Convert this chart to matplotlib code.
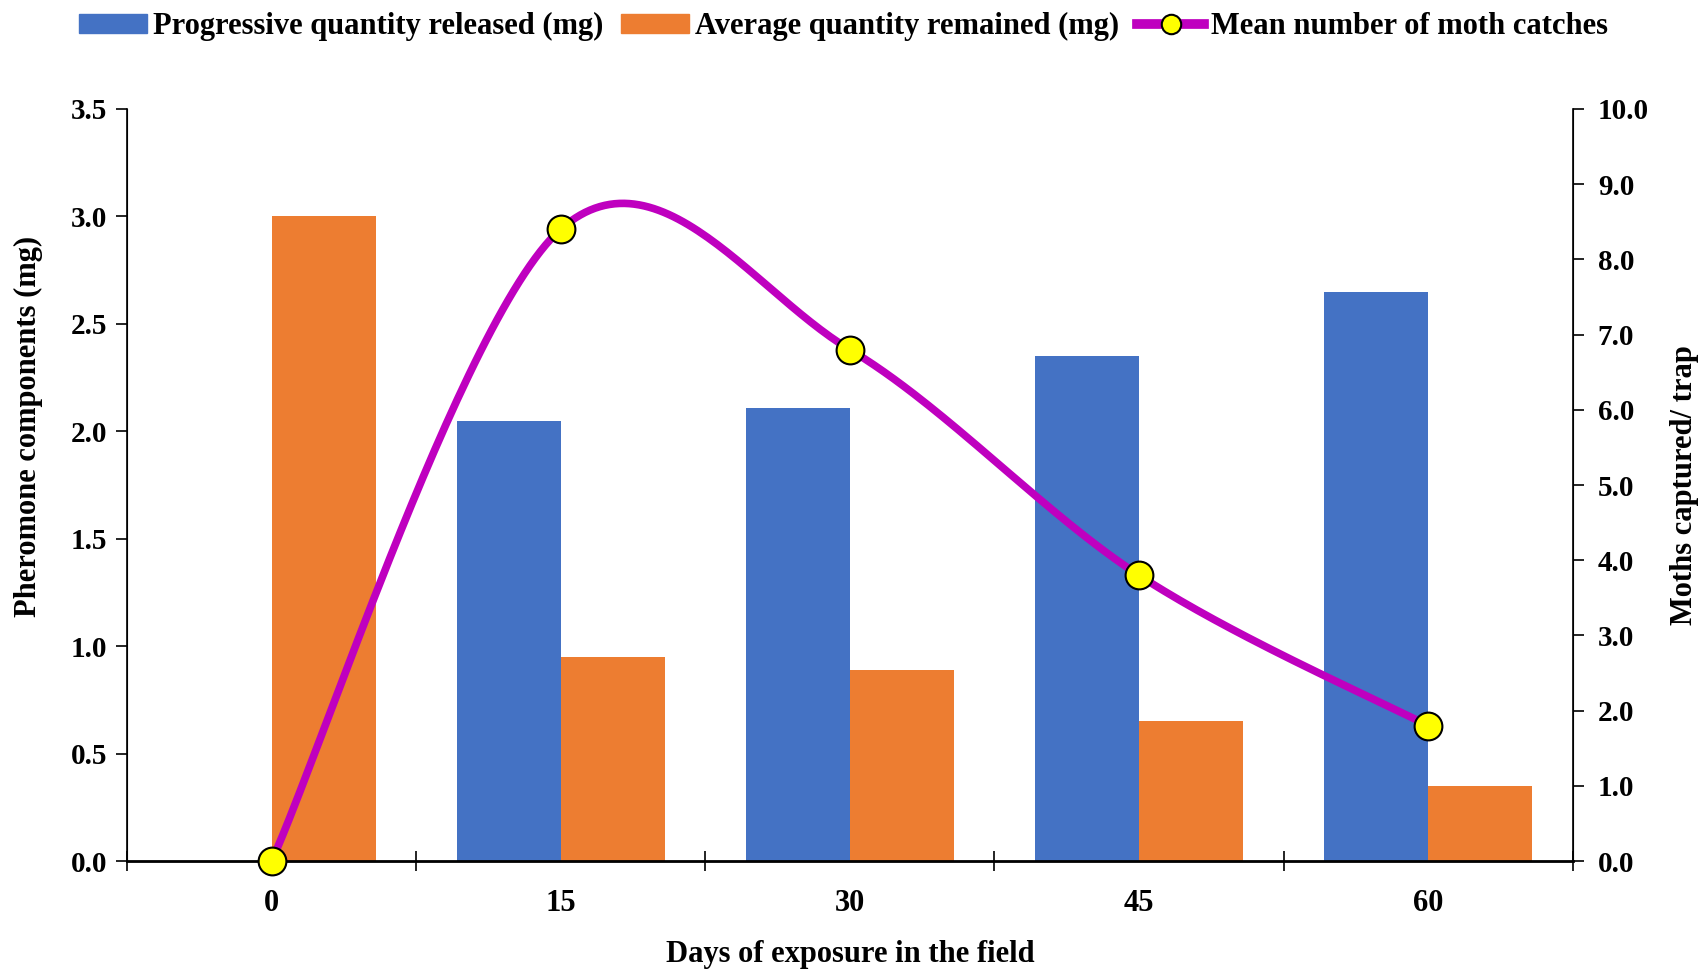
import matplotlib.pyplot as plt
import numpy as np
from matplotlib.lines import Line2D
from matplotlib.patches import Patch

plt.rcParams["font.family"] = "Liberation Serif"
plt.rcParams["font.weight"] = "bold"
plt.rcParams["axes.labelweight"] = "bold"

days = ["0", "15", "30", "45", "60"]
released = [0.0, 2.05, 2.11, 2.35, 2.65]
remained = [3.0, 0.95, 0.89, 0.65, 0.35]
catches = [0.0, 8.4, 6.8, 3.8, 1.8]


def excel_smooth(xs, ys, n=60):
    # Excel style smoothed line: cubic bezier through points, tension 1/6
    p = np.column_stack([xs, ys]).astype(float)
    pts = []
    for i in range(len(p) - 1):
        p0 = p[i - 1] if i > 0 else p[i]
        p1, p2 = p[i], p[i + 1]
        p3 = p[i + 2] if i + 2 < len(p) else p[i + 1]
        c1 = p1 + (p2 - p0) / 6
        c2 = p2 - (p3 - p1) / 6
        t = np.linspace(0, 1, n)[:, None]
        seg = (1 - t) ** 3 * p1 + 3 * (1 - t) ** 2 * t * c1 + 3 * (1 - t) * t ** 2 * c2 + t ** 3 * p2
        pts.append(seg if i == 0 else seg[1:])
    pts = np.vstack(pts)
    return pts[:, 0], pts[:, 1]


x = np.arange(len(days))
w = 0.36

fig = plt.figure(figsize=(17.04, 9.72), dpi=100)
ax = fig.add_axes([0.0745, 0.114, 0.8485, 0.774])
ax.bar(x - w / 2, released, w, color="#4472C4")
ax.bar(x + w / 2, remained, w, color="#ED7D31")
ax.set_xlim(-0.5, 4.5)
ax.set_ylim(0, 3.5)
ax.set_yticks(np.arange(0, 3.51, 0.5))
ax.set_yticklabels([f"{v:.1f}" for v in np.arange(0, 3.51, 0.5)], fontsize=21)
ax.set_xticks(x)
ax.set_xticklabels(days, fontsize=22)
ax.set_xticks(np.arange(-0.5, 4.6, 1), minor=True)
ax.tick_params(axis="x", which="major", length=0, pad=20)
ax.tick_params(axis="x", which="minor", length=14, direction="inout", width=1.2)
ax.tick_params(axis="y", length=8, width=1.2, pad=6)
ax.spines["top"].set_visible(False)
ax.spines["bottom"].set_linewidth(2)
ax.spines["left"].set_linewidth(1.2)
ax.set_xlabel("Days of exposure in the field", fontsize=22, labelpad=16)
ax.set_ylabel("Pheromone components (mg)", fontsize=22)
ax.yaxis.set_label_coords(-0.058, 0.578)

ax2 = ax.twinx()
sx, sy = excel_smooth(x, catches)
ax2.plot(sx, sy, color="#BF00BF", lw=5.5, solid_capstyle="round", clip_on=False)
ax2.plot(x, catches, "o", ms=20, mfc="#FFFF00", mec="black", mew=1.5, clip_on=False, zorder=5)
ax2.set_ylim(0, 10)
ax2.set_yticks(np.arange(0, 10.1, 1))
ax2.set_yticklabels([f"{v:.1f}" for v in np.arange(0, 10.1, 1)], fontsize=21)
ax2.tick_params(axis="y", length=8, width=1.2, pad=10)
ax2.spines["top"].set_visible(False)
ax2.spines["right"].set_linewidth(1.2)
ax2.set_ylabel("Moths captured/ trap", fontsize=22, labelpad=15)

handles = [
    Patch(color="#4472C4"),
    Patch(color="#ED7D31"),
    Line2D([], [], color="#BF00BF", lw=7, marker="o", ms=14, mfc="#FFFF00", mec="black", mew=1.5),
]
labels = ["Progressive quantity released (mg)", "Average quantity remained (mg)", "Mean number of moth catches"]
fig.legend(handles, labels, loc="upper center", bbox_to_anchor=(0.495, 1.016), ncol=3, frameon=False,
           fontsize=22, handlelength=2.2, handleheight=0.6, handletextpad=0.2, columnspacing=0.6)

plt.savefig("out.png", dpi=100)
